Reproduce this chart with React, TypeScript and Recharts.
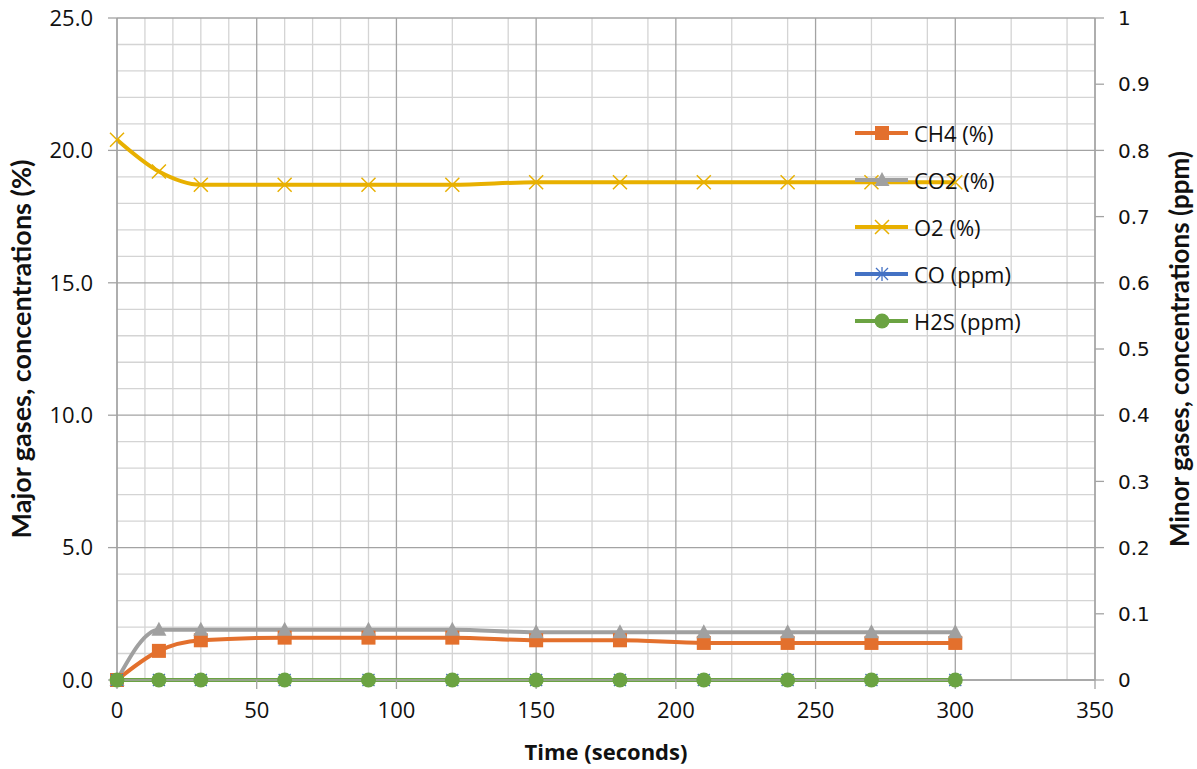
import React from "react"
import {
  ComposedChart,
  Line,
  XAxis,
  YAxis,
  CartesianGrid,
  Legend,
} from "recharts"

// time in seconds
const times = [0, 15, 30, 60, 90, 120, 150, 180, 210, 240, 270, 300]

// major gases (%), left axis
const ch4 = [0, 1.1, 1.5, 1.6, 1.6, 1.6, 1.5, 1.5, 1.4, 1.4, 1.4, 1.4]
const co2 = [0, 1.9, 1.9, 1.9, 1.9, 1.9, 1.8, 1.8, 1.8, 1.8, 1.8, 1.8]
const o2 = [20.4, 19.2, 18.7, 18.7, 18.7, 18.7, 18.8, 18.8, 18.8, 18.8, 18.8, 18.8]

// minor gases (ppm), right axis
const co = [0, 0, 0, 0, 0, 0, 0, 0, 0, 0, 0, 0]
const h2s = [0, 0, 0, 0, 0, 0, 0, 0, 0, 0, 0, 0]

const xTicks = [0, 50, 100, 150, 200, 250, 300, 350]
const xMinor = [10, 20, 30, 40, 60, 70, 80, 90, 110, 120, 130, 140, 160, 170, 180, 190, 210, 220, 230, 240, 260, 270, 280, 290, 310, 320, 330, 340]
const leftTicks = [0, 5, 10, 15, 20, 25]
const leftMinor = [1, 2, 3, 4, 6, 7, 8, 9, 11, 12, 13, 14, 16, 17, 18, 19, 21, 22, 23, 24]
const rightTicks = [0, 0.1, 0.2, 0.3, 0.4, 0.5, 0.6, 0.7, 0.8, 0.9, 1]

const data = times.map((t, i) => ({
  t,
  ch4: ch4[i],
  co2: co2[i],
  o2: o2[i],
  co: co[i],
  h2s: h2s[i],
}))

const series = [
  { key: "ch4", name: "CH4 (%)", color: "#E3702D", marker: "square", axis: "left" },
  { key: "co2", name: "CO2 (%)", color: "#A0A0A0", marker: "triangle", axis: "left" },
  { key: "o2", name: "O2 (%)", color: "#E8B000", marker: "cross", axis: "left" },
  { key: "co", name: "CO (ppm)", color: "#4472C4", marker: "star", axis: "right" },
  { key: "h2s", name: "H2S (ppm)", color: "#6BA342", marker: "circle", axis: "right" },
]

const tickFont = { fontFamily: "Open Sans", fontSize: 22, fill: "#111" }

function Marker({ cx, cy, kind, color }: { cx: number; cy: number; kind: string; color: string }) {
  if (cx == null || cy == null) return null
  if (kind === "square") {
    return <rect x={cx - 7} y={cy - 7} width={14} height={14} fill={color} />
  }
  if (kind === "triangle") {
    return <path d={`M${cx},${cy - 8} L${cx + 7.5},${cy + 6} L${cx - 7.5},${cy + 6} Z`} fill={color} />
  }
  if (kind === "cross") {
    return (
      <path
        d={`M${cx - 7},${cy - 7} L${cx + 7},${cy + 7} M${cx - 7},${cy + 7} L${cx + 7},${cy - 7}`}
        stroke={color}
        strokeWidth={1.5}
        fill="none"
      />
    )
  }
  if (kind === "star") {
    return (
      <path
        d={`M${cx - 6},${cy - 6} L${cx + 6},${cy + 6} M${cx - 6},${cy + 6} L${cx + 6},${cy - 6} M${cx},${cy - 7} L${cx},${cy + 7}`}
        stroke={color}
        strokeWidth={1.3}
        fill="none"
      />
    )
  }
  return <circle cx={cx} cy={cy} r={7.5} fill={color} />
}

function renderLegend() {
  return (
    <div>
      {series.map((s) => (
        <div key={s.key} style={{ display: "flex", alignItems: "center", height: 46.8 }}>
          <svg width={60} height={20}>
            <line x1={3} y1={10} x2={56} y2={10} stroke={s.color} strokeWidth={4} />
            <Marker cx={30} cy={10} kind={s.marker} color={s.color} />
          </svg>
          <span style={{ fontFamily: "Open Sans", fontSize: 22, color: "#111", marginLeft: 2 }}>{s.name}</span>
        </div>
      ))}
    </div>
  )
}

export default function App() {
  return (
    <div style={{ position: "absolute", left: 0, top: 0, background: "#fff" }}>
      <ComposedChart
        width={1197}
        height={769}
        data={data}
        margin={{ top: 18, right: 0, bottom: 0, left: 0 }}
      >
        <CartesianGrid
          yAxisId="left"
          stroke="#d4d4d4"
          strokeWidth={1.3}
          horizontalValues={leftMinor}
          verticalValues={xMinor}
        />
        <CartesianGrid
          yAxisId="left"
          stroke="#a3a3a3"
          strokeWidth={1.3}
          horizontalValues={leftTicks}
          verticalValues={xTicks}
        />
        <XAxis
          dataKey="t"
          type="number"
          domain={[0, 350]}
          ticks={xTicks}
          height={89}
          tick={tickFont}
          tickSize={9}
          tickMargin={13}
          axisLine={{ stroke: "#a3a3a3", strokeWidth: 1.3 }}
          tickLine={{ stroke: "#a3a3a3", strokeWidth: 1.3 }}
          label={{
            value: "Time (seconds)",
            position: "center",
            dy: 28,
            style: { fontFamily: "Open Sans", fontWeight: 700, fontSize: 22, fill: "#111" },
          }}
        />
        <YAxis
          yAxisId="left"
          domain={[0, 25]}
          ticks={leftTicks}
          width={117}
          tick={tickFont}
          tickFormatter={(v: number) => v.toFixed(1)}
          tickSize={9}
          tickMargin={15}
          axisLine={{ stroke: "#a3a3a3", strokeWidth: 1.3 }}
          tickLine={{ stroke: "#a3a3a3", strokeWidth: 1.3 }}
          label={{
            value: "Major gases, concentrations (%)",
            angle: -90,
            position: "center",
            dx: -37,
            style: { fontFamily: "Lato", fontWeight: 700, fontSize: 27, fill: "#111" },
          }}
        />
        <YAxis
          yAxisId="right"
          orientation="right"
          domain={[0, 1]}
          ticks={rightTicks}
          width={102}
          tick={{ fontFamily: "DejaVu Sans", fontSize: 20, fill: "#111" }}
          tickFormatter={(v: number) => String(v)}
          tickSize={9}
          tickMargin={14}
          axisLine={{ stroke: "#a3a3a3", strokeWidth: 1.3 }}
          tickLine={{ stroke: "#a3a3a3", strokeWidth: 1.3 }}
          label={{
            value: "Minor gases,  concentrations  (ppm)",
            angle: -90,
            position: "center",
            dx: 34,
            style: { fontFamily: "Lato", fontWeight: 700, fontSize: 26, fill: "#111", whiteSpace: "pre" },
          }}
        />
        <Legend
          content={renderLegend}
          layout="vertical"
          align="center"
          verticalAlign="middle"
          wrapperStyle={{ position: "absolute", left: 852, top: 110, width: 200 }}
        />
        {series.map((s) => (
          <Line
            key={s.key}
            yAxisId={s.axis}
            dataKey={s.key}
            name={s.name}
            type="monotone"
            stroke={s.color}
            strokeWidth={4}
            isAnimationActive={false}
            dot={(p: any) => <Marker key={`${s.key}-${p.index}`} cx={p.cx} cy={p.cy} kind={s.marker} color={s.color} />}
            activeDot={false}
          />
        ))}
      </ComposedChart>
    </div>
  )
}
